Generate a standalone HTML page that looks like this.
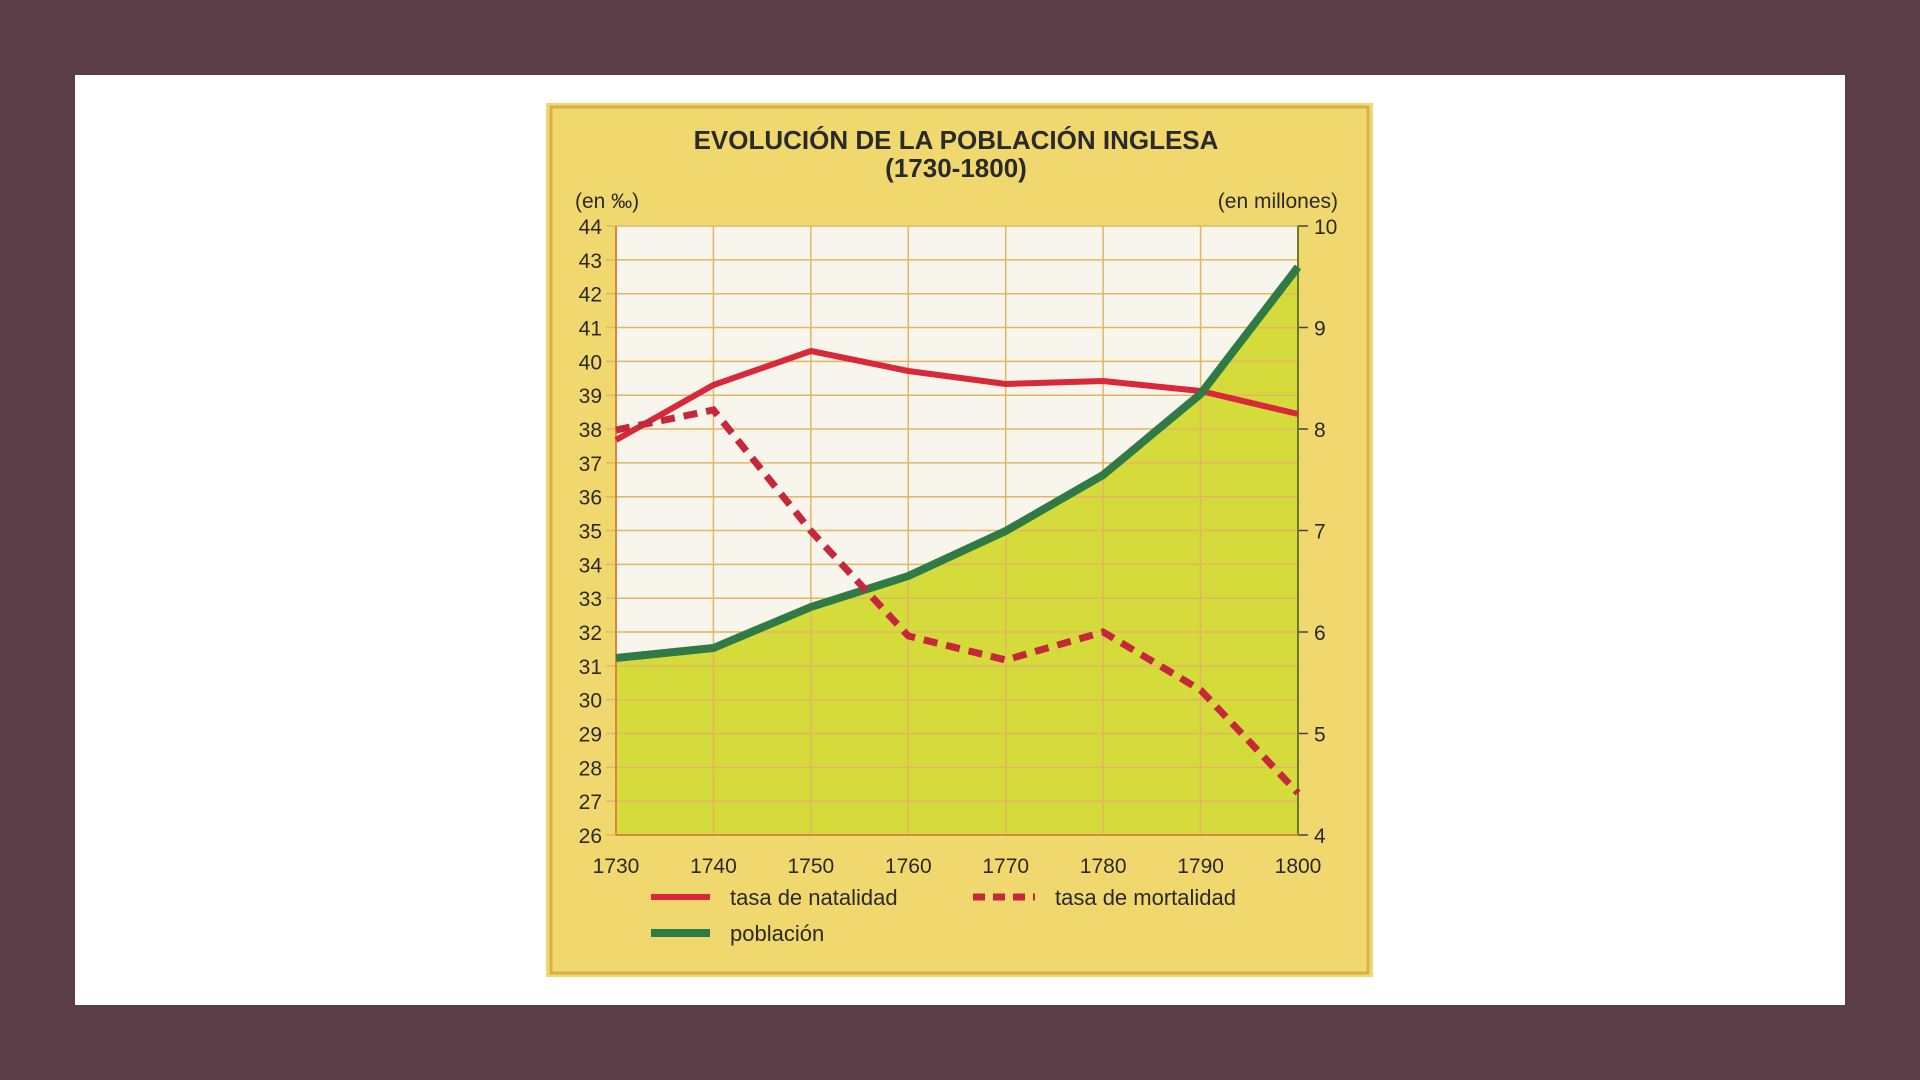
<!DOCTYPE html>
<html><head><meta charset="utf-8"><style>
html,body{margin:0;padding:0;background:#5b3d48;}
svg{display:block}
text{font-family:"Liberation Sans",sans-serif;fill:#2a2a2a}
</style></head><body>
<svg width="1920" height="1080" viewBox="0 0 1920 1080" xmlns="http://www.w3.org/2000/svg">
<rect x="0" y="0" width="1920" height="1080" fill="#5b3d48"/>
<rect x="75" y="75" width="1770" height="930" fill="#ffffff"/>
<rect x="546" y="103" width="827" height="874" fill="#f1d86e"/>
<rect x="551" y="107" width="817" height="866" fill="none" stroke="#d9b04a" stroke-width="3"/>
<text x="956" y="149" text-anchor="middle" font-size="26" font-weight="bold">EVOLUCIÓN DE LA POBLACIÓN INGLESA</text>
<text x="956" y="177" text-anchor="middle" font-size="26" font-weight="bold">(1730-1800)</text>
<text x="575" y="208" font-size="21">(en ‰)</text>
<text x="1338" y="208" font-size="21" text-anchor="end">(en millones)</text>
<!-- plot bg -->
<rect x="616" y="226" width="682" height="609" fill="#f7f5ec"/>
<!-- fill under population: y=835-(v-4)*101.5 -->
<polygon fill="#d6db3c" points="616,658 713.4,648 810.9,607 908.3,576 1005.7,531 1103.1,475 1200.6,394 1298,267 1298,835 616,835"/>
<g stroke="#e2b763" stroke-width="1.5" id="grid"></g>
<g id="labels"></g>
<line x1="616" y1="226" x2="616" y2="835" stroke="#d9883a" stroke-width="2"/>
<line x1="1298" y1="226" x2="1298" y2="835" stroke="#6a7a2a" stroke-width="2"/>
<line x1="616" y1="835" x2="1298" y2="835" stroke="#d9883a" stroke-width="2"/>
<!-- natalidad: y=835-(v-26)*33.83 -->
<polyline fill="none" stroke="#d8283a" stroke-width="6" stroke-linejoin="round" points="616,440 713.4,385 810.9,351 908.3,371 1005.7,384 1103.1,381 1200.6,391 1298,414"/>
<polyline fill="none" stroke="#2f7a45" stroke-width="8" stroke-linejoin="round" points="616,658 713.4,648 810.9,607 908.3,576 1005.7,531 1103.1,475 1200.6,394 1298,267"/>
<polyline fill="none" stroke="#c4283a" stroke-width="7" stroke-dasharray="14,9" points="616,430 713.4,410 810.9,531 908.3,636 1005.7,660 1103.1,632 1200.6,690 1298,793"/>
<!-- legend -->
<line x1="651" y1="897" x2="710" y2="897" stroke="#d8283a" stroke-width="6"/>
<text x="730" y="905" font-size="22">tasa de natalidad</text>
<line x1="973" y1="897" x2="1035" y2="897" stroke="#c4283a" stroke-width="7" stroke-dasharray="12,8"/>
<text x="1055" y="905" font-size="22">tasa de mortalidad</text>
<line x1="651" y1="933" x2="710" y2="933" stroke="#2f7a45" stroke-width="8"/>
<text x="730" y="941" font-size="22">población</text>
<script>
var ns="http://www.w3.org/2000/svg",g=document.getElementById('grid'),L=document.getElementById('labels');
function el(p,t,a,txt){var e=document.createElementNS(ns,t);for(var k in a)e.setAttribute(k,a[k]);if(txt)e.textContent=txt;p.appendChild(e);}
for(var v=26;v<=44;v++){var y=835-(v-26)*33.83;el(g,'line',{x1:606,x2:1298,y1:y,y2:y});
el(L,'text',{x:602,y:y+8,'font-size':21,'text-anchor':'end'},String(v));}
for(var i=0;i<8;i++){var x=616+i*97.43;el(g,'line',{x1:x,x2:x,y1:226,y2:835});
el(L,'text',{x:x,y:873,'font-size':21,'text-anchor':'middle'},String(1730+i*10));}
for(var m=4;m<=10;m++){var y=835-(m-4)*101.5;el(g,'line',{x1:1298,x2:1308,y1:y,y2:y,stroke:'#444'});
el(L,'text',{x:1314,y:y+8,'font-size':21},String(m));}
</script>
</svg>
</body></html>
